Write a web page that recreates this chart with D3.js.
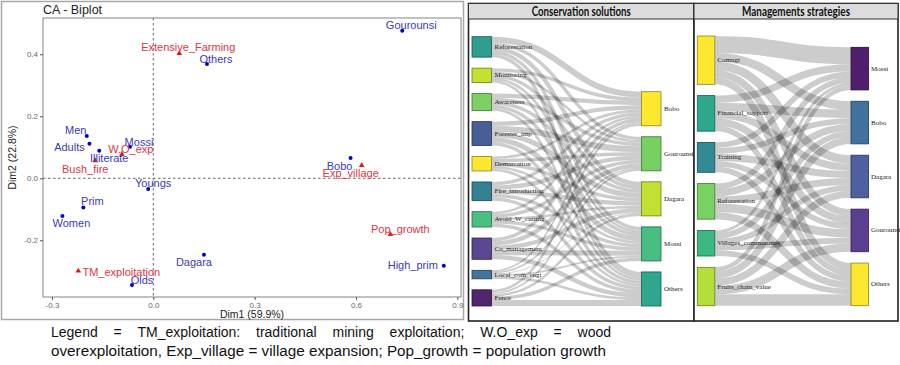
<!DOCTYPE html>
<html><head><meta charset="utf-8">
<script src="https://cdn.jsdelivr.net/npm/d3@7"></script>
<style>body{margin:0;background:#fff;} svg{display:block;}</style>
</head><body>
<svg id="c" width="900" height="365"></svg>
<script>
// ---------------- Biplot data ----------------
const rowNames = ["Gourounsi","Others","Men","Adults","Mossi","Illiterate","Youngs","Prim","Women","Dagara","Olds","Bobo","High_prim"];
const rowDim1  = [0.737, 0.159, -0.197, -0.189, -0.069, -0.160, -0.015, -0.207, -0.269, 0.150, -0.063, 0.584, 0.860];
const rowDim2  = [0.476, 0.369, 0.136, 0.111, 0.102, 0.089, -0.035, -0.094, -0.122, -0.247, -0.344, 0.065, -0.282];
const colNames = ["Extensive_Farming","W.O_exp","Bush_fire","TM_exploitation","Exp_village","Pop_growth"];
const colDim1  = [0.077, -0.093, -0.172, -0.222, 0.617, 0.702];
const colDim2  = [0.403, 0.077, 0.057, -0.299, 0.042, -0.181];
const xTicks = [-0.3, 0.0, 0.3, 0.6, 0.9];
const yTicks = [-0.2, 0.0, 0.2, 0.4];

// ---------------- Sankey data ----------------
const csSources = ["Reforestation","Monitoring","Awareness","Forester_imp","Demarcation","Fire_introduction","Avoid_W_cutting","Co_management","Local_com_engt","Fence"];
const csTargets = ["Bobo","Gourounsi","Dagara","Mossi","Others"];
const csValues = [
  [7,4,5,4,4],
  [4,3,4,3,3],
  [5,4,4,4,3],
  [5,7,6,6,4],
  [3,4,4,3,3],
  [4,5,5,4,4],
  [3,4,3,4,4],
  [4,5,5,6,5],
  [2,2,1,2,3],
  [3,2,3,4,7]
];
const msSources = ["Comngt","Financial_support","Training","Reforestation","Villages_communities","Fruits_chain_value"];
const msTargets = ["Mossi","Bobo","Dagara","Gourounsi","Others"];
const msValues = [
  [12,6,6,5,5],
  [5,6,5,5,4],
  [4,4,5,4,4],
  [4,5,5,6,5],
  [2,4,4,4,4],
  [3,5,5,6,8]
];
const legendLine1 = "Legend = TM_exploitation: traditional mining exploitation; W.O_exp = wood";
const legendLine2 = "overexploitation, Exp_village = village expansion; Pop_growth = population growth";

// ---------------- styles ----------------
const rowLabelNudge = {Gourounsi:[9,-6],Others:[9,-5],Men:[-11,-6],Adults:[-20,3],Mossi:[9,-5],Illiterate:[10,7],Youngs:[5,-6],Prim:[9,-6],Women:[9,7],Dagara:[-10,7],Olds:[10,-5],Bobo:[-11,8],High_prim:[-31,-1]};
const colLabelNudge = {Extensive_Farming:[9,-6],"W.O_exp":[9,-5],Bush_fire:[-10,8],TM_exploitation:[43,1],Exp_village:[-11,8],Pop_growth:[10,-5]};
const csSrcColors = ["#24998a","#bfdf26","#74cf5a","#3d5690","#fde725","#2a7a8e","#40bd79","#513d8b","#3a6c99","#491a67"];
const csTgtColors = ["#fde725","#70cd5a","#bddf26","#3eba79","#23a287"];
const msSrcColors = ["#fde725","#22a386","#27848e","#72cf5a","#34b47c","#b0dc2e"];
const msTgtColors = ["#481265","#376a98","#44579a","#51358b","#fde725"];

const svg = d3.select("#c");
const sans = "'Liberation Sans', Arial, sans-serif";

// ---------------- Biplot ----------------
const gB = svg.append("g");
gB.append("rect").attr("x",1.5).attr("y",1.5).attr("width",462).attr("height",318)
  .attr("fill","#fff").attr("stroke","#a8a8a8").attr("stroke-width",1.5);
const x = d3.scaleLinear().domain([-0.3265, 0.911]).range([43, 461]);
const y = d3.scaleLinear().domain([-0.383, 0.517]).range([297, 18]);

gB.append("rect").attr("x",43).attr("y",18).attr("width",418).attr("height",279)
  .attr("fill","#fff").attr("stroke","#666").attr("stroke-width",0.8);

const fmt = d => d.toFixed(1);
const ax = gB.append("g").attr("transform","translate(0,297)")
  .call(d3.axisBottom(x).tickValues(xTicks).tickFormat(fmt).tickSize(3).tickPadding(2));
const ay = gB.append("g").attr("transform","translate(43,0)")
  .call(d3.axisLeft(y).tickValues(yTicks).tickFormat(fmt).tickSize(3).tickPadding(2));
[ax, ay].forEach(a => {
  a.select(".domain").remove();
  a.selectAll("line").attr("stroke","#555");
  a.selectAll("text").attr("fill","#666").style("font-family",sans).style("font-size","8px");
});

// reference lines
gB.append("line").attr("x1",x(0)).attr("x2",x(0)).attr("y1",18).attr("y2",297)
  .attr("stroke","#666").attr("stroke-dasharray","2.5,2.5").attr("stroke-width",1);
gB.append("line").attr("x1",43).attr("x2",461).attr("y1",y(0)).attr("y2",y(0))
  .attr("stroke","#666").attr("stroke-dasharray","2.5,2.5").attr("stroke-width",1);

// titles
gB.append("text").attr("x",43).attr("y",14).text("CA - Biplot")
  .style("font-family",sans).style("font-size","12.5px").attr("fill","#222");
gB.append("text").attr("x",252).attr("y",318).attr("text-anchor","middle").text("Dim1 (59.9%)")
  .style("font-family",sans).style("font-size","10.5px").attr("fill","#222");
gB.append("text").attr("transform","translate(15.5,157.5) rotate(-90)").attr("text-anchor","middle").text("Dim2 (22.8%)")
  .style("font-family",sans).style("font-size","10.5px").attr("fill","#222");

// row points
const rows = rowNames.map((n,i)=>({n, d1:rowDim1[i], d2:rowDim2[i]}));
const cols = colNames.map((n,i)=>({n, d1:colDim1[i], d2:colDim2[i]}));
gB.selectAll("circle.row").data(rows).enter().append("circle")
  .attr("cx",d=>x(d.d1)).attr("cy",d=>y(d.d2)).attr("r",2).attr("fill","#0000cc");
gB.selectAll("path.col").data(cols).enter().append("path")
  .attr("d", d3.symbol().type(d3.symbolTriangle).size(14))
  .attr("transform",d=>`translate(${x(d.d1)},${y(d.d2)})`).attr("fill","#dd1c1c");
gB.selectAll("text.rowlab").data(rows).enter().append("text")
  .attr("x",d=>x(d.d1)+rowLabelNudge[d.n][0]).attr("y",d=>y(d.d2)+rowLabelNudge[d.n][1])
  .attr("text-anchor","middle").attr("dominant-baseline","central")
  .style("font-family",sans).style("font-size","11px").attr("fill","#3a3ab4").text(d=>d.n);
gB.selectAll("text.collab").data(cols).enter().append("text")
  .attr("x",d=>x(d.d1)+colLabelNudge[d.n][0]).attr("y",d=>y(d.d2)+colLabelNudge[d.n][1])
  .attr("text-anchor","middle").attr("dominant-baseline","central")
  .style("font-family",sans).style("font-size","11px").attr("fill","#dc3545").text(d=>d.n);

// ---------------- Sankey panels ----------------
function panel(px, pw, title, tw) {
  svg.append("rect").attr("x",px).attr("y",3.5).attr("width",pw).attr("height",317.5)
    .attr("fill","#fff").attr("stroke","#222").attr("stroke-width",1.6);
  svg.append("rect").attr("x",px).attr("y",3.5).attr("width",pw).attr("height",15.5)
    .attr("fill","#dcdcdc").attr("stroke","#333").attr("stroke-width",1);
  svg.append("text").attr("x",px+pw/2).attr("y",15.8).attr("text-anchor","middle")
    .attr("textLength",tw).attr("lengthAdjust","spacingAndGlyphs")
    .style("font-family","Lato, 'Open Sans', sans-serif").style("font-weight","bold").style("font-size","13px")
    .attr("fill","#111").text(title);
}
panel(468.5, 225.5, "Conservation solutions", 99);
panel(694, 204, "Managements strategies", 108);

function drawSankey(c) {
  const g = svg.append("g");
  const srcTot = c.values.map(r => d3.sum(r));
  const tgtTot = c.targets.map((t,j) => d3.sum(c.values, r => r[j]));
  const total = d3.sum(srcTot);
  const ky = (c.bottom - c.top - (c.sources.length-1)*c.pad) / total;
  const h = d3.scaleLinear().domain([0,total]).range([0,total*ky]);
  let yy = c.top;
  const sN = c.sources.map((name,i)=>{const n={name,y0:yy,y1:yy+h(srcTot[i]),color:c.srcColors[i]}; yy=n.y1+c.pad; return n;});
  yy = c.bottom - (h(total) + (c.targets.length-1)*c.pad);
  const tN = c.targets.map((name,j)=>{const n={name,y0:yy,y1:yy+h(tgtTot[j]),color:c.tgtColors[j]}; yy=n.y1+c.pad; return n;});
  const links = [];
  const sOff = sN.map(n=>n.y0), tOff = tN.map(n=>n.y0);
  const L = c.values.map(()=>[]);
  c.values.forEach((r,i)=>r.forEach((v,j)=>{ const w=h(v); const l={w, sy:sOff[i]+w/2}; sOff[i]+=w; L[i][j]=l; if(v>0) links.push(l); }));
  c.targets.forEach((t,j)=>c.values.forEach((r,i)=>{ const l=L[i][j]; l.ty=tOff[j]+l.w/2; tOff[j]+=l.w; }));
  const lk = d3.linkHorizontal();
  g.selectAll("path.link").data(links).enter().append("path")
    .attr("d", d => lk({source:[c.xs+c.nw, d.sy], target:[c.xt, d.ty]}))
    .attr("fill","none").attr("stroke","#000").attr("stroke-opacity",0.2).attr("stroke-width",d=>Math.max(0.5,d.w));
  const nodes = sN.map(n=>({...n, x:c.xs})).concat(tN.map(n=>({...n, x:c.xt})));
  g.selectAll("rect.node").data(nodes).enter().append("rect")
    .attr("x",d=>d.x).attr("y",d=>d.y0).attr("width",c.nw).attr("height",d=>d.y1-d.y0)
    .attr("fill",d=>d.color).attr("fill-opacity",0.95)
    .attr("stroke",d=>d3.rgb(d.color).darker(1.6)).attr("stroke-width",0.8);
  g.selectAll("text.nlab").data(nodes).enter().append("text")
    .attr("x",d=>d.x+c.nw+c.lgap).attr("y",d=>(d.y0+d.y1)/2).attr("dominant-baseline","central")
    .style("font-family","'Liberation Serif','Times New Roman',serif").style("font-size","7px")
    .attr("fill","#222").text(d=>d.name);
}
drawSankey({sources:csSources, targets:csTargets, values:csValues, srcColors:csSrcColors, tgtColors:csTgtColors,
  xs:472, xt:641.5, nw:19.5, top:36.7, bottom:306, pad:11, lgap:3});
drawSankey({sources:msSources, targets:msTargets, values:msValues, srcColors:msSrcColors, tgtColors:msTgtColors,
  xs:697.3, xt:851, nw:17.5, top:36, bottom:305.7, pad:11.3, lgap:2.5});

// ---------------- Legend text ----------------
const lg = svg.append("g").style("font-family",sans).style("font-size","14px").attr("fill","#111");
const lx0 = 51, lx1 = 611;
const words = legendLine1.split(" ");
const tmp = lg.append("text").attr("x",0).attr("y",-100);
const widths = words.map(w => { tmp.text(w); return tmp.node().getComputedTextLength(); });
tmp.remove();
const gap = (lx1 - lx0 - d3.sum(widths)) / (words.length - 1);
let cx = lx0;
words.forEach((w,i) => { lg.append("text").attr("x",cx).attr("y",337).text(w); cx += widths[i] + gap; });
lg.append("text").attr("x",lx0).attr("y",356).attr("textLength",lx1-lx0-5).attr("lengthAdjust","spacingAndGlyphs").text(legendLine2);
</script>
</body></html>
